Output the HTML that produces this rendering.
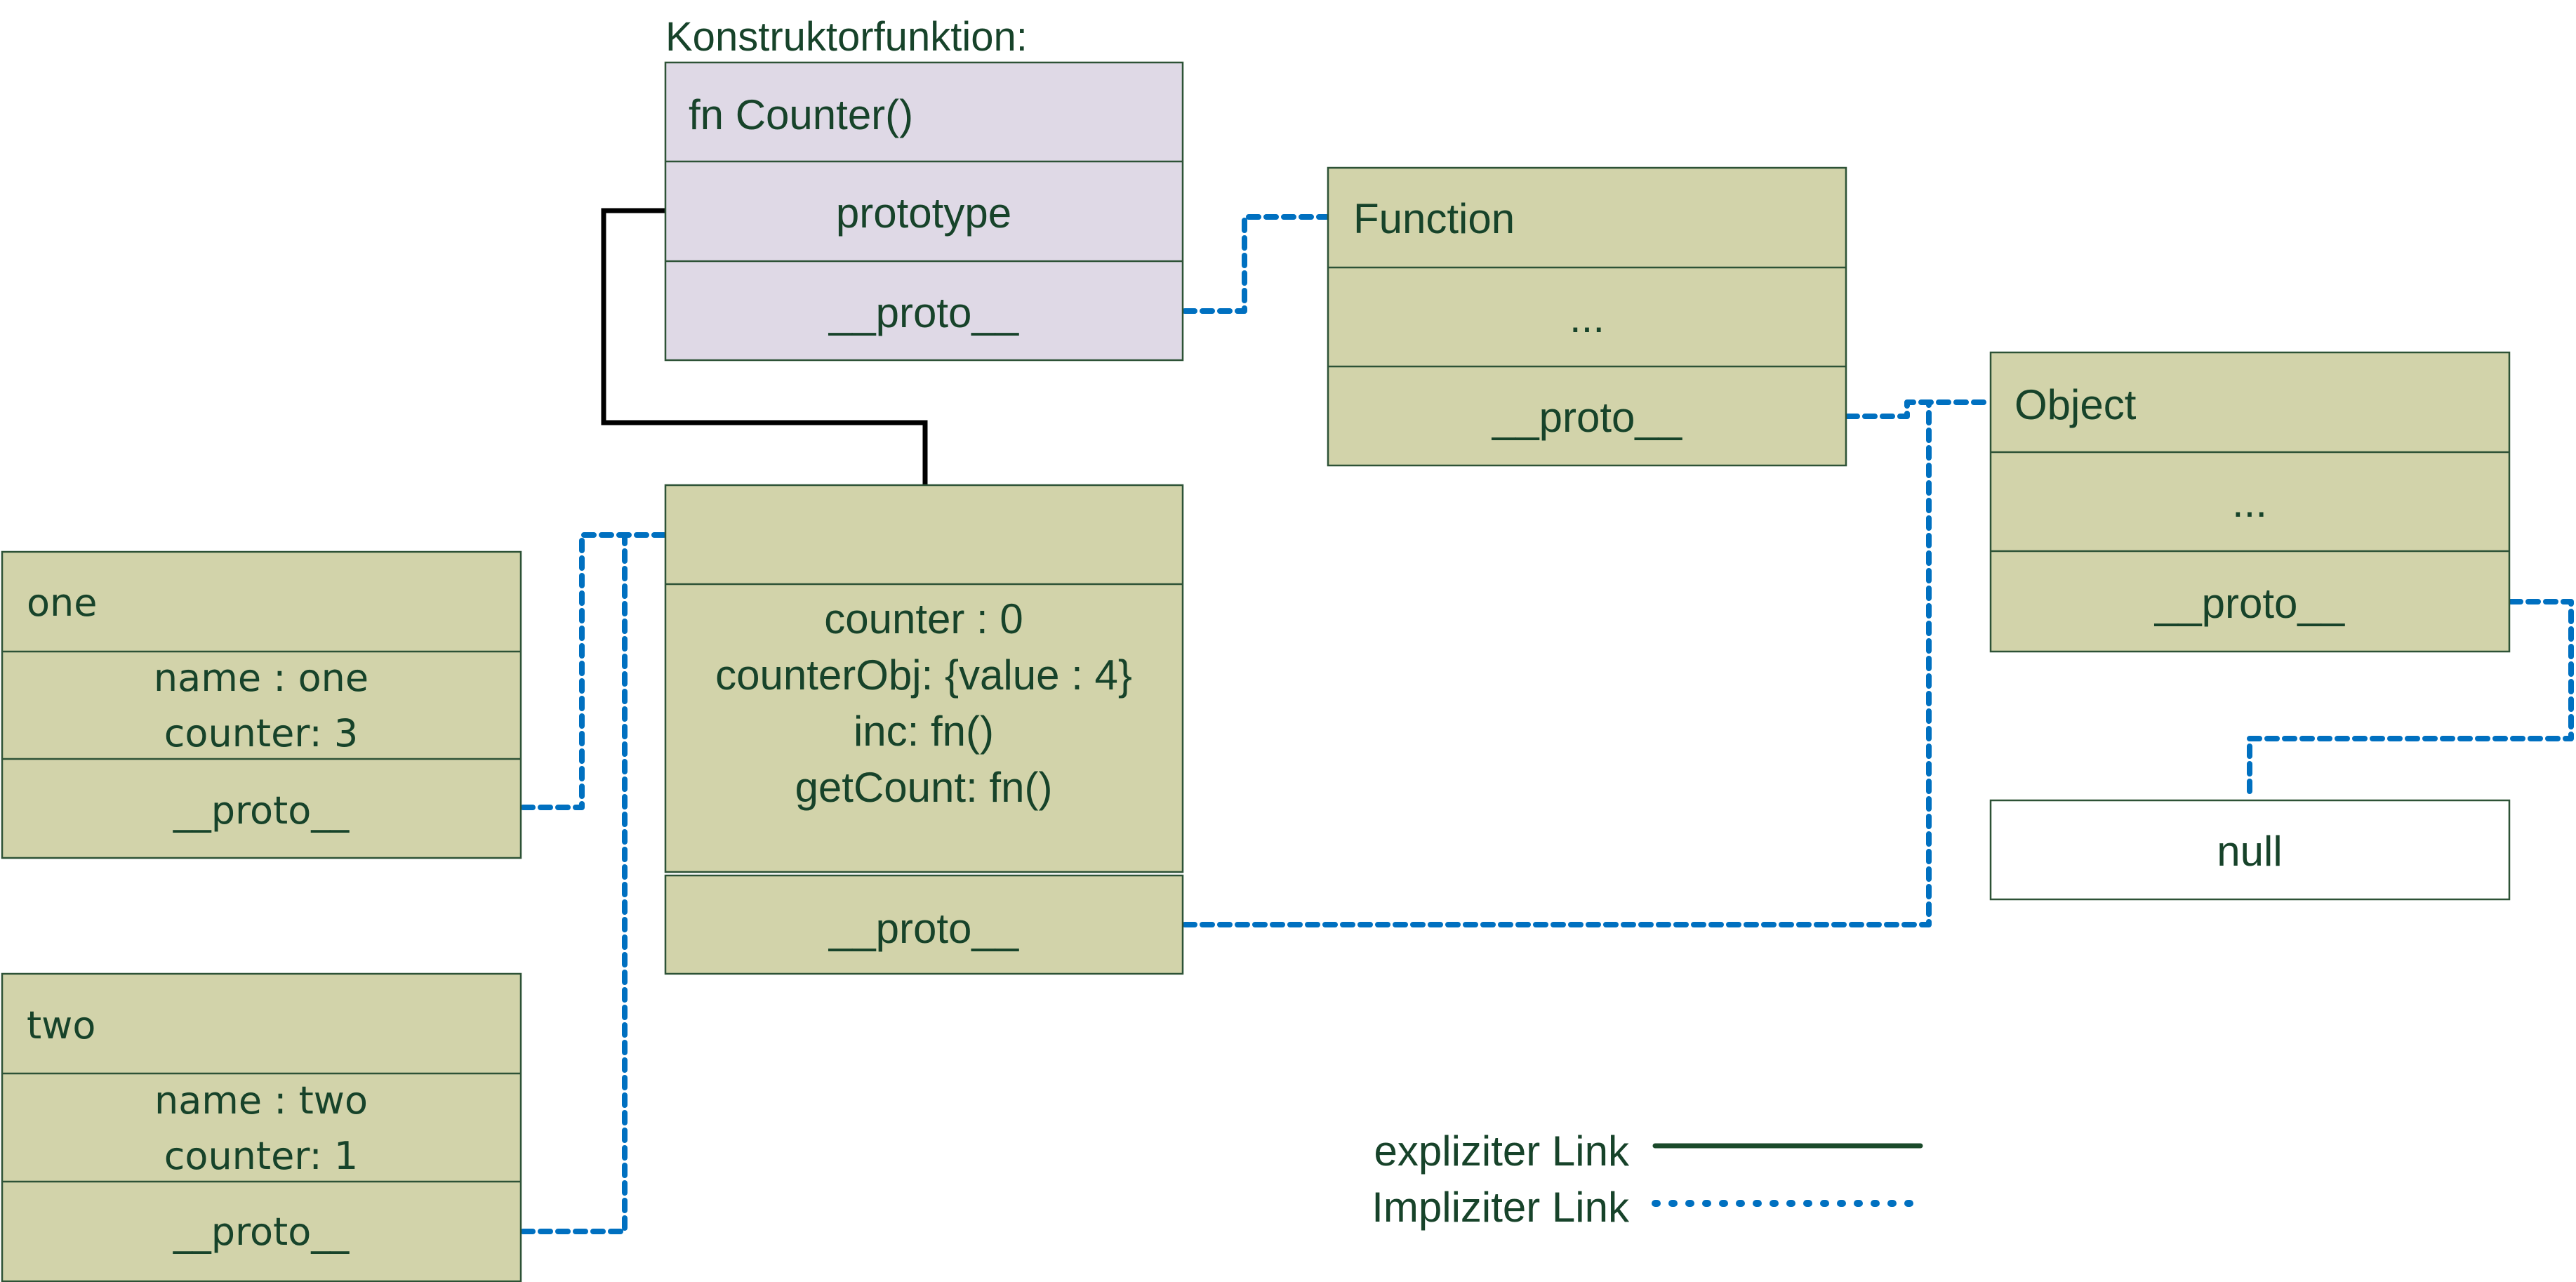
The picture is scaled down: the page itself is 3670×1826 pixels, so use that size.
<!DOCTYPE html>
<html><head><meta charset="utf-8"><style>
html,body{margin:0;padding:0;background:#fff;}
svg{display:block;}
text{fill:#17432a;}
.c{font-family:"Liberation Sans",sans-serif;font-size:60px;}
.v{font-family:"DejaVu Sans",sans-serif;font-size:54px;}
.box{stroke:#2d5236;stroke-width:2.5;}
.g{fill:#d2d3aa;}
.p{fill:#dfd9e6;}
.dot{fill:none;stroke:#0070c0;stroke-width:8;stroke-dasharray:14 11;stroke-linecap:round;stroke-linejoin:round;}
</style></head><body>
<svg width="3670" height="1826" viewBox="0 0 3670 1826" xmlns="http://www.w3.org/2000/svg">
<polyline points="948,300 860,300 860,602 1318,602 1318,690" fill="none" stroke="#000" stroke-width="7" stroke-linejoin="miter"/>
<polyline class="dot" points="1688,443 1773,443 1773,309 1890,309"/>
<polyline class="dot" points="2632,593 2717,593 2717,573 2836,573"/>
<polyline class="dot" points="1688,1317 2748,1317 2748,573"/>
<polyline class="dot" points="3577,857 3663,857 3663,1052 3205,1052 3205,1138"/>
<polyline class="dot" points="745,1150 829,1150 829,762 946,762"/>
<polyline class="dot" points="745,1754 890,1754 890,762"/>

<text class="c" x="948" y="72" style="font-size:58px">Konstruktorfunktion:</text>
<rect class="box p" x="948" y="89" width="737" height="424"/>
<line class="box" x1="948" y1="230" x2="1685" y2="230"/>
<line class="box" x1="948" y1="372" x2="1685" y2="372"/>
<text class="c" x="981" y="184">fn Counter()</text>
<text class="c" x="1316" y="324" text-anchor="middle">prototype</text>
<text class="c" x="1316" y="466" text-anchor="middle">__proto__</text>

<rect class="box g" x="1892" y="239" width="738" height="424"/>
<line class="box" x1="1892" y1="381" x2="2630" y2="381"/>
<line class="box" x1="1892" y1="522" x2="2630" y2="522"/>
<text class="c" x="1928" y="332">Function</text>
<text class="c" x="2261" y="473" text-anchor="middle">...</text>
<text class="c" x="2261" y="615" text-anchor="middle">__proto__</text>

<rect class="box g" x="2836" y="502" width="739" height="426"/>
<line class="box" x1="2836" y1="644" x2="3575" y2="644"/>
<line class="box" x1="2836" y1="785" x2="3575" y2="785"/>
<text class="c" x="2870" y="597">Object</text>
<text class="c" x="3205" y="736" text-anchor="middle">...</text>
<text class="c" x="3205" y="880" text-anchor="middle">__proto__</text>

<rect class="box" fill="#fff" x="2836" y="1140" width="739" height="141"/>
<text class="c" x="3205" y="1233" text-anchor="middle">null</text>

<rect class="box g" x="948" y="691" width="737" height="551"/>
<line class="box" x1="948" y1="832" x2="1685" y2="832"/>
<rect class="box g" x="948" y="1247" width="737" height="140"/>
<text class="c" x="1316" y="902" text-anchor="middle">counter : 0</text>
<text class="c" x="1316" y="982" text-anchor="middle">counterObj: {value : 4}</text>
<text class="c" x="1316" y="1062" text-anchor="middle">inc: fn()</text>
<text class="c" x="1316" y="1142" text-anchor="middle">getCount: fn()</text>
<text class="c" x="1316" y="1343" text-anchor="middle">__proto__</text>

<rect class="box g" x="3" y="786" width="739" height="436"/>
<line class="box" x1="3" y1="928" x2="742" y2="928"/>
<line class="box" x1="3" y1="1081" x2="742" y2="1081"/>
<text class="v" x="38" y="877">one</text>
<text class="v" x="372" y="984" text-anchor="middle">name : one</text>
<text class="v" x="372" y="1063" text-anchor="middle">counter: 3</text>
<text class="v" x="372" y="1173" text-anchor="middle">__proto__</text>

<rect class="box g" x="3" y="1387" width="739" height="438"/>
<line class="box" x1="3" y1="1529" x2="742" y2="1529"/>
<line class="box" x1="3" y1="1683" x2="742" y2="1683"/>
<text class="v" x="38" y="1479">two</text>
<text class="v" x="372" y="1586" text-anchor="middle">name : two</text>
<text class="v" x="372" y="1665" text-anchor="middle">counter: 1</text>
<text class="v" x="372" y="1773" text-anchor="middle">__proto__</text>

<text class="c" x="2321" y="1660" text-anchor="end">expliziter Link</text>
<line x1="2358" y1="1632" x2="2736" y2="1632" stroke="#1a4a2a" stroke-width="7" stroke-linecap="round"/>
<text class="c" x="2321" y="1740" text-anchor="end">Impliziter Link</text>
<line x1="2358" y1="1714" x2="2736" y2="1714" stroke="#0070c0" stroke-width="10" stroke-dasharray="3 21" stroke-linecap="round"/>
</svg>
</body></html>
